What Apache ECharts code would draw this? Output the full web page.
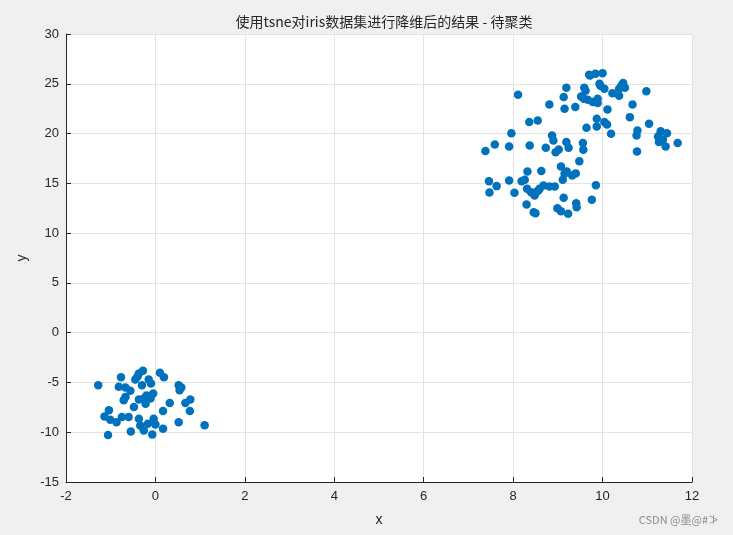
<!DOCTYPE html>
<html>
<head>
<meta charset="utf-8">
<script src="https://cdn.jsdelivr.net/npm/echarts@6/dist/echarts.min.js"></script>
<style>
  html, body { margin: 0; padding: 0; background: #f0f0f0; }
  #main { width: 733px; height: 535px; }
</style>
</head>
<body>
<div id="main"></div>
<script>
// 左下角那一团 (setosa)
var groupAX = [-1.28, -0.77, -0.82, -0.67, -0.56, -0.45, -0.37, -0.28, -0.30, -0.15,
  -0.10, 0.10, 0.19, 0.52, 0.54, -0.71, -0.67, -0.48, -0.37, -0.26,
  -0.22, -0.15, -0.05, 0.32, 0.67, 0.78, 0.77, 0.17, -1.04, -1.14,
  -1.01, -0.87, -0.75, -0.60, -0.37, -0.34, -0.26, -0.17, -0.04, -0.07,
  0.00, 0.17, 0.52, 1.10, -0.55, -1.06, -0.11, -0.40, 0.58, -0.20];
var groupAY = [-5.27, -4.49, -5.44, -5.51, -5.84, -4.70, -4.09, -3.82, -5.27, -4.70,
  -5.10, -4.02, -4.49, -5.27, -5.78, -6.79, -6.45, -7.47, -6.72, -6.62,
  -7.13, -6.45, -6.11, -7.06, -7.06, -6.72, -7.87, -7.87, -7.80, -8.41,
  -8.75, -8.99, -8.48, -8.48, -8.65, -9.32, -9.83, -9.16, -8.65, -10.24,
  -9.22, -9.66, -8.99, -9.29, -9.93, -10.27, -6.62, -4.40, -5.50, -6.30];

// 右上角那一团 (versicolor + virginica)
var groupBX = [9.72, 9.84, 10.00, 9.19, 9.59, 9.93, 10.04, 10.46, 10.37, 10.22,
  10.37, 10.98, 8.11, 9.13, 9.52, 9.67, 9.78, 9.89, 9.89, 8.81,
  9.15, 9.39, 10.11, 10.67, 10.61, 11.04, 8.36, 8.55, 9.64, 9.87,
  9.87, 10.04, 10.19, 10.78, 10.76, 11.30, 11.44, 11.24, 11.26, 11.41,
  11.68, 10.77, 7.96, 7.38, 7.59, 7.91, 8.37, 8.87, 8.90, 8.73,
  8.95, 9.19, 9.24, 9.56, 9.57, 9.48, 9.07, 9.15, 9.32, 9.11,
  8.63, 8.32, 7.46, 7.63, 7.47, 7.91, 8.19, 8.26, 8.31, 8.03,
  8.52, 8.59, 8.68, 8.81, 8.93, 8.48, 8.30, 8.46, 8.50, 8.99,
  9.07, 9.23, 9.13, 9.41, 9.42, 9.76, 9.85, 9.95, 10.42, 9.62,
  10.10, 9.70, 11.35, 8.57, 9.20, 9.02, 10.50, 9.40, 8.40, 9.58];
var groupBY = [25.84, 26.00, 26.07, 24.60, 24.60, 25.00, 24.50, 25.07, 24.50, 24.06,
  23.80, 24.26, 23.90, 23.66, 23.73, 23.40, 23.16, 23.50, 23.06, 22.92,
  22.49, 22.66, 22.42, 22.92, 21.65, 20.98, 21.15, 21.32, 20.58, 21.48,
  20.71, 21.15, 19.98, 20.31, 19.81, 20.24, 20.04, 19.71, 19.14, 18.70,
  19.04, 18.20, 20.04, 18.24, 18.90, 18.70, 18.80, 19.80, 19.30, 18.57,
  18.13, 19.14, 18.57, 19.04, 18.37, 17.23, 16.70, 15.96, 15.79, 15.35,
  16.23, 16.19, 15.22, 14.72, 14.08, 15.29, 15.22, 15.35, 14.45, 14.05,
  14.12, 14.45, 14.79, 14.69, 14.69, 13.78, 12.88, 12.10, 12.00, 12.50,
  12.20, 11.94, 13.55, 13.00, 12.60, 13.35, 14.82, 24.80, 24.80, 24.30,
  20.90, 25.90, 19.40, 14.30, 16.20, 18.40, 24.60, 16.00, 14.10, 23.50];

var xTicks = [-2, 0, 2, 4, 6, 8, 10, 12];
var yTicks = [-15, -10, -5, 0, 5, 10, 15, 20, 25, 30];

var points = [];
groupAX.forEach(function (v, i) { points.push([v, groupAY[i]]); });
groupBX.forEach(function (v, i) { points.push([v, groupBY[i]]); });

var axisText = { color: '#262626', fontSize: 13, fontFamily: 'Arial, "Liberation Sans", sans-serif' };

var option = {
  backgroundColor: '#f0f0f0',
  animation: false,
  title: {
    text: '使用tsne对iris数据集进行降维后的结果 - 待聚类',
    left: 379,
    top: 10,
    textAlign: 'center',
    textStyle: { fontSize: 14, fontWeight: 'normal', color: '#262626', fontFamily: '"Noto Sans CJK SC", sans-serif' }
  },
  grid: {
    left: 66, right: 41, top: 34, bottom: 53,
    show: true, backgroundColor: '#ffffff', borderWidth: 0
  },
  xAxis: {
    type: 'value',
    min: xTicks[0], max: xTicks[xTicks.length - 1], interval: 2,
    name: 'x', nameLocation: 'middle', nameGap: 31,
    nameTextStyle: { color: '#262626', fontSize: 14, fontFamily: 'Arial, sans-serif' },
    axisLine: { show: true, onZero: false, lineStyle: { color: '#262626', width: 1 } },
    axisTick: { show: true, inside: true, length: 5, lineStyle: { color: '#262626' } },
    axisLabel: Object.assign({ margin: 8 }, axisText),
    splitLine: { show: true, lineStyle: { color: '#e3e3e3', width: 1 } }
  },
  yAxis: {
    type: 'value',
    min: yTicks[0], max: yTicks[yTicks.length - 1], interval: 5,
    name: 'y', nameLocation: 'middle', nameGap: 31,
    nameTextStyle: { color: '#262626', fontSize: 14, fontFamily: 'Arial, sans-serif' },
    axisLine: { show: true, onZero: false, lineStyle: { color: '#262626', width: 1 } },
    axisTick: { show: true, inside: true, length: 5, lineStyle: { color: '#262626' } },
    axisLabel: Object.assign({ margin: 7 }, axisText),
    splitLine: { show: true, lineStyle: { color: '#e3e3e3', width: 1 } }
  },
  graphic: [{
    type: 'text', right: 14, bottom: 10,
    style: { text: 'CSDN @墨@#≯', fill: '#8c8c8c', fontSize: 11, fontFamily: '"Noto Sans CJK SC", sans-serif' }
  }],
  series: [{
    type: 'scatter',
    data: points,
    symbol: 'circle',
    symbolSize: 8.5,
    itemStyle: { color: '#0072bd', opacity: 1 }
  }]
};

var chart = echarts.init(document.getElementById('main'));
chart.setOption(option);
</script>
</body>
</html>
